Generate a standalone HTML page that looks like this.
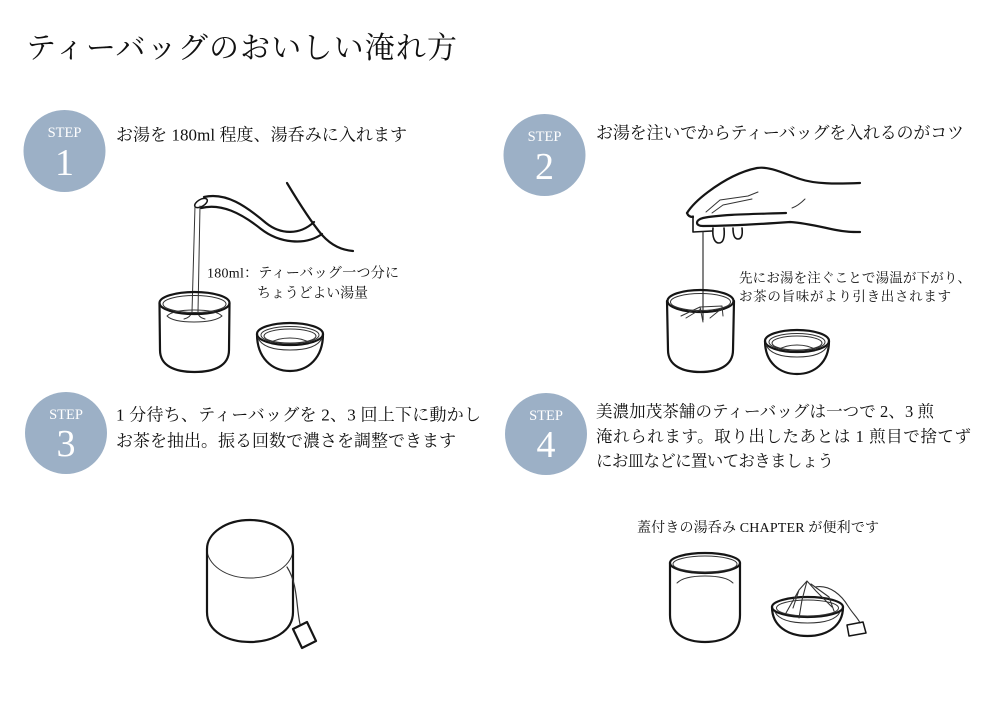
<!DOCTYPE html>
<html><head><meta charset="utf-8"><style>
html,body{margin:0;padding:0;background:#fff;}
svg{display:block;}
.t{font-family:"Liberation Serif","Noto Serif CJK SC",serif;fill:#111;}
.s{font-family:"Liberation Serif",serif;fill:#fff;}
.o{fill:none;stroke:#151515;stroke-width:2.2;stroke-linecap:round;stroke-linejoin:round;}
.i{fill:none;stroke:#333;stroke-width:1;stroke-linecap:round;stroke-linejoin:round;}
</style></head><body>
<svg width="1000" height="720" viewBox="0 0 1000 720" xmlns="http://www.w3.org/2000/svg">
<rect width="1000" height="720" fill="#fff"/>
<!-- Title -->
<text class="t" x="26" y="58" font-size="30" textLength="431" lengthAdjust="spacing">ティーバッグのおいしい淹れ方</text>

<!-- Step circles -->
<g fill="#9cb0c6">
<circle cx="64.5" cy="151" r="41"/>
<circle cx="544.5" cy="155" r="41"/>
<circle cx="66" cy="433" r="41"/>
<circle cx="546" cy="434" r="41"/>
</g>
<g class="s" text-anchor="middle">
<text x="64.5" y="137" font-size="14.5">STEP</text>
<text x="64.5" y="175" font-size="38">1</text>
<text x="544.5" y="141" font-size="14.5">STEP</text>
<text x="544.5" y="179" font-size="38">2</text>
<text x="66" y="419" font-size="14.5">STEP</text>
<text x="66" y="456" font-size="38">3</text>
<text x="546" y="420" font-size="14.5">STEP</text>
<text x="546" y="457" font-size="38">4</text>
</g>

<!-- Step headings -->
<text class="t" x="116" y="140.5" font-size="17" textLength="291" lengthAdjust="spacing">お湯を 180ml 程度、湯呑みに入れます</text>
<text class="t" x="596" y="138.5" font-size="17" textLength="368" lengthAdjust="spacing">お湯を注いでからティーバッグを入れるのがコツ</text>
<text class="t" x="116" y="420.5" font-size="17" textLength="365" lengthAdjust="spacing">1 分待ち、ティーバッグを 2、3 回上下に動かし</text>
<text class="t" x="116" y="446.5" font-size="17" textLength="340" lengthAdjust="spacing">お茶を抽出。振る回数で濃さを調整できます</text>
<text class="t" x="596" y="417" font-size="16.5" textLength="338" lengthAdjust="spacing">美濃加茂茶舗のティーバッグは一つで 2、3 煎</text>
<text class="t" x="596" y="442" font-size="16.5" textLength="375" lengthAdjust="spacing">淹れられます。取り出したあとは 1 煎目で捨てず</text>
<text class="t" x="596" y="466.5" font-size="16.5" textLength="238" lengthAdjust="spacing">にお皿などに置いておきましょう</text>

<!-- annotations -->
<text class="t" x="207" y="277.5" font-size="14" textLength="192" lengthAdjust="spacing">180ml：ティーバッグ一つ分に</text>
<text class="t" x="257" y="297.5" font-size="14" textLength="111" lengthAdjust="spacing">ちょうどよい湯量</text>
<text class="t" x="739" y="282.5" font-size="13.5" textLength="232" lengthAdjust="spacing">先にお湯を注ぐことで湯温が下がり、</text>
<text class="t" x="739" y="301" font-size="13.5" textLength="212" lengthAdjust="spacing">お茶の旨味がより引き出されます</text>
<text class="t" x="637" y="532" font-size="14" textLength="242" lengthAdjust="spacing">蓋付きの湯呑み CHAPTER が便利です</text>

<!-- ===== Step 1 illustration ===== -->
<path class="o" d="M287,183 C299,203 311,222 322,235 C332,246 342,250 353,251"/>
<path class="o" d="M204,197 C226,192 246,206 266,223 C281,235 300,235 314,222"/>
<path class="o" d="M201,208 C221,203 241,213 261,229 C279,243 305,246 322,234"/>
<ellipse class="o" cx="201" cy="203" rx="7" ry="3.5" transform="rotate(-30 201 203)" style="stroke-width:1.5"/>
<path class="i" d="M195,206 L192,312 C191,316 188,318 184,319"/>
<path class="i" d="M200,206 L198,312 C198,316 201,318 205,319"/>
<path class="o" d="M159.5,303 L160,350 C160,366 175,372 194.5,372 C214,372 229,366 229,350 L229.5,303"/>
<ellipse class="o" cx="194.5" cy="303" rx="35" ry="11"/>
<ellipse class="i" cx="194.5" cy="304" rx="31.5" ry="8.5"/>
<path class="i" d="M167,316 C172,311 184,310 194,310 C205,310 217,311 222,316 C216,321 205,322 194,322 C183,322 172,321 167,316 Z"/>
<path class="o" d="M257,334 C257,358 272,371 290,371 C308,371 323,358 323,334"/>
<ellipse class="o" cx="290" cy="334" rx="33" ry="11"/>
<ellipse class="i" cx="290" cy="335" rx="29" ry="8.5"/>
<ellipse class="i" cx="290" cy="336" rx="26" ry="7"/>
<path class="i" d="M270,343 C276,339 283,338 290,338 C297,338 304,339 310,343"/>
<path class="i" d="M258,338 C262,347 275,350 290,350 C305,350 318,347 322,338"/>

<!-- ===== Step 2 illustration ===== -->
<path class="o" d="M687,213 C692,205 700,198 708,192 C720,183 737,172 757,168 C770,166 785,174 800,179 C815,184 835,184 860,183"/>
<path class="o" d="M687,213 C688,216 690,217 693,217"/>
<path class="o" d="M693,216 L693,232 L712,231" style="stroke-width:1.6"/>
<path class="i" d="M706,212 L720,200 L748,196 L758,192"/>
<path class="i" d="M712,213 L723,205 L752,199"/>
<path class="o" d="M786,213 C760,214 722,214 703,218 C695,220 695,226 703,226 C730,226 762,224 790,222 C806,223 821,227 836,230 C846,232 852,232 860,232"/>
<path class="i" d="M792,208 C798,206 802,202 805,199"/>
<path class="o" d="M713,228 C712,238 715,243 719,243 C723,243 725,238 724,228" style="stroke-width:1.6"/>
<path class="o" d="M733,228 C733,236 735,239 738,239 C741,239 743,236 742,228" style="stroke-width:1.6"/>
<path class="i" d="M703,232 L703,320" style="stroke-width:1.2"/>
<path class="o" d="M667,301 L668,350 C668,366 683,372 700.5,372 C718,372 733,366 733,350 L734,301"/>
<ellipse class="o" cx="700.5" cy="301" rx="33" ry="11"/>
<ellipse class="i" cx="700.5" cy="302" rx="30" ry="8.5"/>
<path class="i" d="M681,316 L700,307 L722,306 L723,316 M700,307 L703,322 M686,318 L701,309 M710,318 L721,309"/>
<path class="o" d="M765,341 C765,363 780,374 797,374 C814,374 829,363 829,341"/>
<ellipse class="o" cx="797" cy="341" rx="32" ry="11"/>
<ellipse class="i" cx="797" cy="342" rx="28" ry="8.5"/>
<ellipse class="i" cx="797" cy="343" rx="25" ry="7"/>
<path class="i" d="M778,350 C784,346 790,345 797,345 C804,345 810,346 816,350"/>
<path class="i" d="M766,345 C770,354 782,357 797,357 C812,357 824,354 828,345"/>

<!-- ===== Step 3 illustration ===== -->
<path class="o" d="M207,549 A43,29 0 0 1 293,549"/>
<path class="i" d="M207,549 A43,29 0 0 0 293,549"/>
<path class="o" d="M207,549 L207,612 C207,632 228,642 250,642 C272,642 293,632 293,612 L293,549"/>
<path class="i" d="M287,567 C298,584 296,606 300,624" style="stroke-width:1.2"/>
<path class="o" d="M293,629 L307,622 L316,641 L302,648 Z"/>

<!-- ===== Step 4 illustration ===== -->
<path class="o" d="M670,563 L670,615 C670,634 686,642 705,642 C724,642 740,634 740,615 L740,563"/>
<ellipse class="o" cx="705" cy="563" rx="35" ry="10"/>
<ellipse class="i" cx="705" cy="564" rx="32" ry="8"/>
<path class="i" d="M677,583 C682,578 693,576 705,576 C717,576 728,578 733,583"/>
<path class="o" d="M772,607 C772,626 788,636 807.5,636 C827,636 843,626 843,607"/>
<ellipse class="o" cx="807.5" cy="607" rx="35.5" ry="10"/>
<ellipse class="i" cx="807.5" cy="608" rx="31" ry="8"/>
<path class="i" d="M775,612 C779,620 792,623 807.5,623 C823,623 836,620 840,612"/>
<path class="i" d="M786,613 L799,590 L807,581 L816,591 L832,607 M807,581 L802,600 L799,618 M811,584 L829,597 L834,611 M799,590 L793,608" style="stroke-width:1.1"/>
<path class="i" d="M815,587 C830,584 842,596 848,606 C853,614 858,618 860,623" style="stroke-width:1.1"/>
<path class="o" d="M847,625 L863,622 L866,633 L849,636 Z" style="stroke-width:1.5"/>
</svg>
</body></html>
